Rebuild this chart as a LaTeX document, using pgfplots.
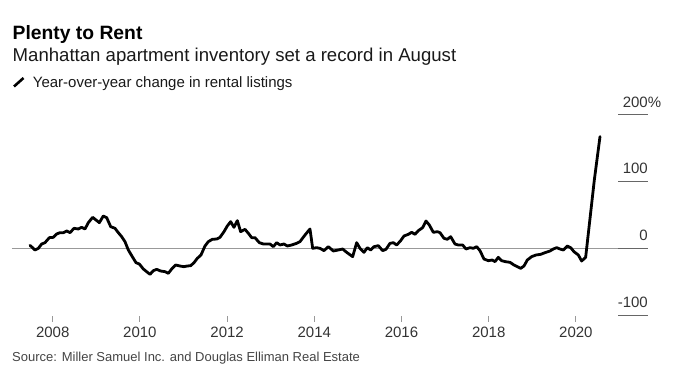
\documentclass[border=0pt]{standalone}
\usepackage{fontspec}
\setmainfont{Liberation Sans}
\usepackage{pgfplots}
\pgfplotsset{compat=1.18}
\definecolor{zeroline}{HTML}{999999}
\definecolor{stub}{HTML}{666666}
\definecolor{ticklab}{HTML}{333333}
\definecolor{srccol}{HTML}{444444}
\begin{document}
\begin{tikzpicture}
\useasboundingbox (0,0) rectangle (683pt,380pt);
\begin{axis}[
  at={(12pt,58.3pt)}, anchor=south west,
  scale only axis, width=606pt, height=220.1pt,
  xmin=2007.0665, xmax=2020.966, ymin=-110, ymax=220,
  axis line style={draw=none},
  clip=false,
  xtick={2008,2010,2012,2014,2016,2018,2020},
  xticklabels={2008,2010,2012,2014,2016,2018,2020},
  ytick=\empty,
  xtick pos=bottom,
  tick align=inside, major tick length=6pt,
  tick style={color=zeroline, line width=0.8pt},
  xticklabel style={font=\fontsize{15}{15}\selectfont, text=ticklab, yshift=-2pt},
]
\draw[zeroline, line width=1pt] (axis cs:2007.0665,0) -- (axis cs:2020.966,0);
\draw[stub, line width=1pt] (axis cs:2020.966,-100) -- (axis cs:2021.654,-100);
\draw[stub, line width=1pt] (axis cs:2020.966,0) -- (axis cs:2021.654,0);
\draw[stub, line width=1pt] (axis cs:2020.966,100) -- (axis cs:2021.654,100);
\draw[stub, line width=1pt] (axis cs:2020.966,200) -- (axis cs:2021.654,200);
\node[anchor=base east, inner sep=0pt, text=ticklab, font=\fontsize{15}{15}\selectfont] at ([yshift=7.7pt]axis cs:2021.654,-100) {-100};
\node[anchor=base east, inner sep=0pt, text=ticklab, font=\fontsize{15}{15}\selectfont] at ([yshift=7.7pt]axis cs:2021.654,0) {0};
\node[anchor=base east, inner sep=0pt, text=ticklab, font=\fontsize{15}{15}\selectfont] at ([yshift=7.7pt]axis cs:2021.654,100) {100};
\node[anchor=base east, inner sep=0pt, text=ticklab, font=\fontsize{15}{15}\selectfont] at ([yshift=7.7pt]axis cs:2021.654,200) {200\rlap{\%}};
\addplot[black, line width=2.8pt, line join=round, line cap=round] table {
x y
2007.479 4.5
2007.594 -2.5
2007.670 0
2007.747 6.5
2007.823 8.5
2007.923 16
2008.015 16.5
2008.091 21.5
2008.167 23.5
2008.244 23.5
2008.320 26
2008.397 23.5
2008.489 30
2008.588 29
2008.664 31.5
2008.741 29
2008.817 38.5
2008.917 46.5
2008.993 42.5
2009.070 38.5
2009.161 48.5
2009.238 46
2009.330 32.5
2009.429 30
2009.505 23.5
2009.582 17.5
2009.658 10
2009.735 -2.5
2009.826 -12.5
2009.911 -21.5
2009.987 -23.5
2010.079 -31
2010.155 -35
2010.232 -39
2010.308 -33.5
2010.385 -31.5
2010.476 -34
2010.576 -35
2010.652 -37.5
2010.729 -31
2010.820 -25
2010.920 -26.5
2011.011 -27.5
2011.088 -26.5
2011.164 -26
2011.241 -21.5
2011.317 -15
2011.401 -10
2011.493 3.5
2011.569 10
2011.661 13.5
2011.761 14
2011.837 16.5
2011.929 25
2012.005 33.5
2012.082 40
2012.158 31.5
2012.235 41.5
2012.311 25
2012.411 28.5
2012.488 22.5
2012.563 16
2012.640 16
2012.739 8.5
2012.831 6.5
2012.984 6.5
2013.060 2.5
2013.137 8.5
2013.213 5
2013.305 6.5
2013.381 3.5
2013.481 5
2013.596 7.5
2013.672 10
2013.787 20
2013.901 29
2013.963 0
2014.055 1
2014.131 0
2014.222 -3.5
2014.322 2.5
2014.437 -4
2014.551 -2.5
2014.651 -1
2014.742 -6
2014.880 -12.5
2014.972 8.5
2015.048 0
2015.140 -6
2015.216 1
2015.293 -2.5
2015.369 2.5
2015.469 4
2015.568 -3.5
2015.644 -1.5
2015.736 7.5
2015.813 8.5
2015.889 5
2015.981 11.5
2016.057 18.5
2016.157 21
2016.233 24
2016.310 21
2016.386 26.5
2016.485 31
2016.562 41
2016.638 35
2016.730 24
2016.822 25
2016.883 23.5
2016.975 15
2017.051 13.5
2017.128 17.5
2017.227 6.5
2017.304 5
2017.403 5
2017.479 -1
2017.571 1
2017.647 0
2017.724 2.5
2017.800 -3.5
2017.892 -16
2017.992 -18.5
2018.083 -17.5
2018.144 -20
2018.221 -13.5
2018.297 -18.5
2018.389 -20
2018.489 -21
2018.580 -25
2018.657 -27.5
2018.733 -30
2018.810 -26.5
2018.886 -17.5
2018.985 -12.5
2019.085 -10
2019.192 -9
2019.291 -6.5
2019.406 -4
2019.482 -1
2019.559 1
2019.635 -1
2019.712 -2.5
2019.804 3.5
2019.880 1
2019.956 -5
2020.056 -10
2020.132 -19
2020.224 -13.5
2020.423 102.5
2020.553 167.5
};
\end{axis}
\node[anchor=base west, inner sep=0pt, font=\bfseries\fontsize{19.3}{20}\selectfont] at (12.5pt,340pt) {Plenty to Rent};
\node[anchor=base west, inner sep=0pt, text=black!90, font=\fontsize{18.6}{20}\selectfont] at (12.5pt,318.7pt) {Manhattan apartment inventory set a record in August};
\draw[black, line width=2.6pt] (14pt,293.5pt) -- (23.5pt,302pt);
\node[anchor=base west, inner sep=0pt, text=black!90, font=\fontsize{15}{16}\selectfont] at (32.7pt,292.7pt) {Year-over-year change in rental listings};
\node[anchor=base west, inner sep=0pt, text=srccol, font=\fontsize{13}{14}\selectfont] at (12pt,18pt) {Source: Miller Samuel Inc. and Douglas Elliman Real Estate};
\end{tikzpicture}
\end{document}
